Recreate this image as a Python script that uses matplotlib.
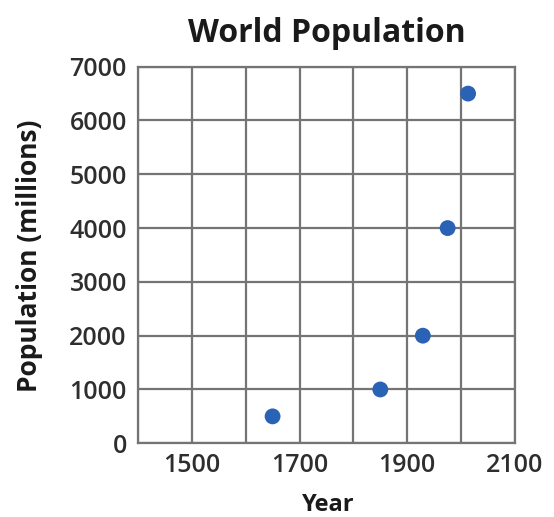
import matplotlib.pyplot as plt

plt.rcParams['font.family'] = ['Open Sans', 'DejaVu Sans']

# values
years = [1650, 1850, 1929, 1975, 2013]
population = [500, 1000, 2000, 4000, 6500]
x_ticks = [1500, 1700, 1900, 2100]
y_ticks = [0, 1000, 2000, 3000, 4000, 5000, 6000, 7000]

fig = plt.figure(figsize=(5.54, 5.17), dpi=100)
ax = fig.add_axes([0.249, 0.1426, 0.6805, 0.7284])

ax.scatter(years, population, s=130, color='#2a63b5', zorder=3, edgecolors='none')

ax.set_xlim(1400, 2100)
ax.set_ylim(0, 7000)
ax.set_xticks(range(1400, 2101, 100), minor=True)
ax.set_xticks(x_ticks)
ax.set_yticks(y_ticks)
ax.grid(True, which='both', color='#747474', linewidth=1.6)
ax.set_axisbelow(True)
for s in ax.spines.values():
    s.set_color('#747474')
    s.set_linewidth(1.6)
ax.tick_params(which='both', length=0, labelsize=18, colors='#2e2e2e')
ax.tick_params(axis='y', pad=8)
ax.tick_params(axis='x', pad=7)
for lbl in ax.get_xticklabels() + ax.get_yticklabels():
    lbl.set_fontweight('semibold')

fig.text(0.59, 0.919, 'World Population', ha='center', va='baseline',
         fontsize=23, fontweight='bold', color='#1a1a1a')
fig.text(0.592, 0.0, 'Year', ha='center', va='bottom',
         fontsize=17, fontweight='bold', color='#1a1a1a')
fig.text(0.054, 0.505, 'Population (millions)', ha='center', va='center',
         rotation=90, fontsize=19, fontweight='bold', color='#1a1a1a')

fig.savefig('out.png', dpi=100)
